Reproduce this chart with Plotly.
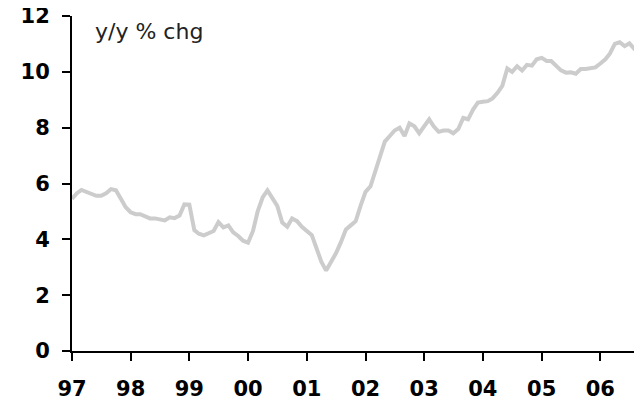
import plotly.graph_objects as go
import pandas as pd

# Monthly y/y % change, Jan 1997 - Sep 2006
dates = pd.date_range("1997-01-01", periods=117, freq="MS")
values = [
    # 1997
    5.45, 5.65, 5.77, 5.70, 5.64, 5.56, 5.56, 5.65, 5.80, 5.76, 5.45, 5.15,
    # 1998
    4.97, 4.90, 4.90, 4.83, 4.75, 4.75, 4.70, 4.68, 4.79, 4.76, 4.85, 5.25,
    # 1999
    5.24, 4.33, 4.20, 4.14, 4.22, 4.30, 4.62, 4.43, 4.50, 4.25, 4.12, 3.95,
    # 2000
    3.88, 4.30, 5.00, 5.50, 5.75, 5.45, 5.20, 4.60, 4.45, 4.75, 4.65, 4.45,
    # 2001
    4.32, 4.15, 3.70, 3.20, 2.88, 3.20, 3.50, 3.90, 4.35, 4.50, 4.65, 5.20,
    # 2002
    5.70, 5.90, 6.40, 7.05, 7.50, 7.70, 7.90, 8.00, 7.70, 8.15, 8.05, 7.80,
    # 2003
    8.05, 8.30, 8.05, 7.85, 7.90, 7.90, 7.80, 7.95, 8.35, 8.30, 8.65, 8.90,
    # 2004
    8.93, 8.95, 9.05, 9.25, 9.50, 10.12, 10.00, 10.20, 10.05, 10.25, 10.22, 10.45,
    # 2005
    10.50, 10.39, 10.39, 10.20, 10.05, 9.97, 9.98, 9.93, 10.10, 10.10, 10.13, 10.16,
    # 2006
    10.30, 10.45, 10.65, 11.00, 11.06, 10.92, 11.02, 10.82, 10.75,
]
y_ticks = [0, 2, 4, 6, 8, 10, 12]
x_tick_dates = pd.date_range("1997-01-01", periods=10, freq="YS")
x_tick_labels = ["97", "98", "99", "00", "01", "02", "03", "04", "05", "06"]
label_text = "y/y % chg"

fig = go.Figure()
fig.add_trace(go.Scatter(
    x=dates, y=values, mode="lines",
    line=dict(color="#cccccc", width=4),
    hoverinfo="skip", showlegend=False,
))

tickfont = dict(family="DejaVu Sans", size=21, color="black", weight="bold")

# page body has an 8px default margin, so the figure is sized/placed to compensate
fig.update_layout(
    width=634, height=397,
    margin=dict(l=64, r=0, t=8, b=54, autoexpand=False),
    paper_bgcolor="white", plot_bgcolor="white",
    xaxis=dict(
        type="date", automargin=False,
        range=["1997-01-01", "2006-09-17"],
        tickmode="array", tickvals=x_tick_dates, ticktext=x_tick_labels,
        ticks="outside", ticklen=8, tickwidth=2, tickcolor="black",
        showline=True, linecolor="black", linewidth=2,
        showgrid=False, zeroline=False,
        tickfont=tickfont, ticklabelstandoff=10,
        ticklabeloverflow="allow",
    ),
    yaxis=dict(
        automargin=False,
        range=[0, 12],
        tickmode="array", tickvals=y_ticks,
        ticks="outside", ticklen=8, tickwidth=2, tickcolor="black",
        showline=True, linecolor="black", linewidth=2,
        showgrid=False, zeroline=False,
        tickfont=tickfont, ticklabelstandoff=8,
        ticklabeloverflow="allow",
    ),
    annotations=[dict(
        text=label_text, xref="paper", yref="paper",
        x=0.037, y=0.955, xanchor="left", yanchor="middle",
        showarrow=False,
        font=dict(family="DejaVu Sans", size=22, color="#222222"),
    )],
)

fig.write_html("out.html")
